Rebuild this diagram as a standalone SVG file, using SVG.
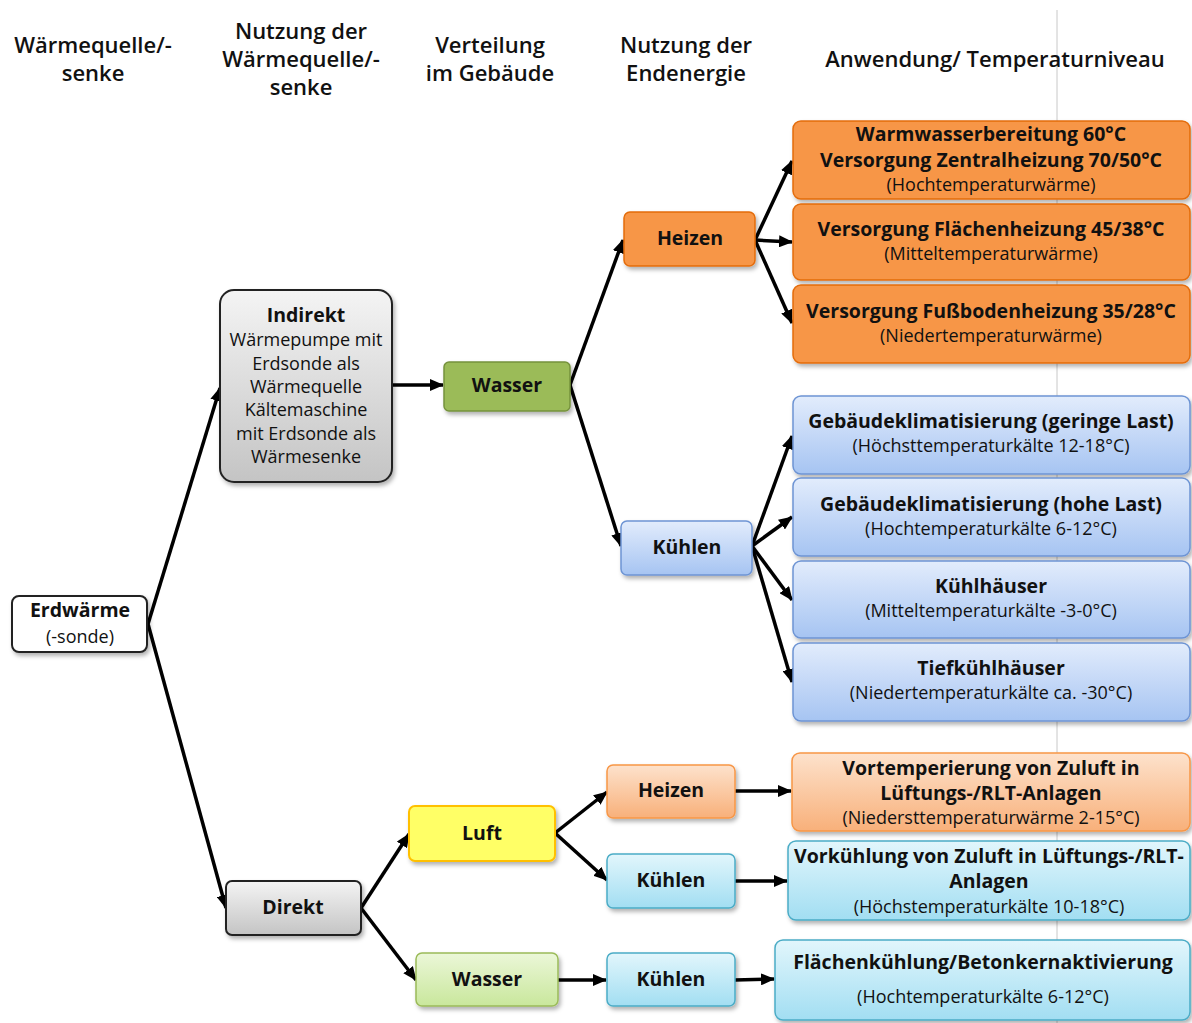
<svg xmlns="http://www.w3.org/2000/svg" width="1192" height="1023" viewBox="0 0 1192 1023">
<defs>
<style>
text{font-family:"Open Sans","Liberation Sans",sans-serif;fill:#111;text-anchor:middle}
.h{font-size:22px;font-weight:600}
.s{font-size:18px}
.n{font-size:19.5px;font-weight:bold}
.c{stroke:#000;stroke-width:3.5;fill:none;marker-end:url(#ah)}
.box{filter:url(#sh)}
</style>
<marker id="ah" markerUnits="userSpaceOnUse" markerWidth="14" markerHeight="12" viewBox="0 0 14 12" refX="13" refY="6" orient="auto"><path d="M0,0 L14,6 L0,12 z" fill="#000"/></marker>
<filter id="sh" x="-10%" y="-10%" width="130%" height="140%"><feDropShadow dx="2" dy="3" stdDeviation="2" flood-color="#000" flood-opacity="0.3"/></filter>
<linearGradient id="gGray" x1="0" y1="0" x2="0" y2="1"><stop offset="0" stop-color="#f4f4f4"/><stop offset="1" stop-color="#c4c4c4"/></linearGradient>
<linearGradient id="gBlue" x1="0" y1="0" x2="0" y2="1"><stop offset="0" stop-color="#e2ecfc"/><stop offset="1" stop-color="#a6c4f2"/></linearGradient>
<linearGradient id="gLO" x1="0" y1="0" x2="0" y2="1"><stop offset="0" stop-color="#fde2cc"/><stop offset="1" stop-color="#f8b07a"/></linearGradient>
<linearGradient id="gCy" x1="0" y1="0" x2="0" y2="1"><stop offset="0" stop-color="#e2f6fc"/><stop offset="1" stop-color="#a2def2"/></linearGradient>
<linearGradient id="gLG" x1="0" y1="0" x2="0" y2="1"><stop offset="0" stop-color="#ebf7d8"/><stop offset="1" stop-color="#c9e79c"/></linearGradient>
</defs>
<rect width="1192" height="1023" fill="#fff"/>
<line x1="1057" y1="10" x2="1057" y2="1023" stroke="#c8c8c8" stroke-width="1"/>

<g id="headers">
<text class="h" x="93" y="53">Wärmequelle/-</text>
<text class="h" x="93" y="81">senke</text>
<text class="h" x="301" y="39">Nutzung der</text>
<text class="h" x="301" y="67">Wärmequelle/-</text>
<text class="h" x="301" y="95">senke</text>
<text class="h" x="490" y="53">Verteilung</text>
<text class="h" x="490" y="81">im Gebäude</text>
<text class="h" x="686" y="53">Nutzung der</text>
<text class="h" x="686" y="81">Endenergie</text>
<text class="h" x="995" y="67">Anwendung/ Temperaturniveau</text>
</g>

<g id="connectors">
<line class="c" x1="148" y1="624" x2="220" y2="388"/>
<line class="c" x1="148" y1="624" x2="226" y2="908"/>
<line class="c" x1="392" y1="385" x2="443" y2="385"/>
<line class="c" x1="570" y1="385" x2="623" y2="240"/>
<line class="c" x1="570" y1="385" x2="621" y2="546"/>
<line class="c" x1="755" y1="240" x2="792" y2="161"/>
<line class="c" x1="755" y1="240" x2="792" y2="242"/>
<line class="c" x1="755" y1="240" x2="792" y2="323"/>
<line class="c" x1="752" y1="546" x2="792" y2="436"/>
<line class="c" x1="752" y1="546" x2="792" y2="517"/>
<line class="c" x1="752" y1="546" x2="792" y2="600"/>
<line class="c" x1="752" y1="546" x2="792" y2="682"/>
<line class="c" x1="361" y1="908" x2="409" y2="834"/>
<line class="c" x1="361" y1="908" x2="416" y2="980"/>
<line class="c" x1="555" y1="833" x2="607" y2="792"/>
<line class="c" x1="555" y1="833" x2="607" y2="880"/>
<line class="c" x1="735" y1="791" x2="791" y2="791"/>
<line class="c" x1="735" y1="881" x2="787" y2="881"/>
<line class="c" x1="558" y1="980" x2="606" y2="980"/>
<line class="c" x1="735" y1="980" x2="774" y2="979"/>
</g>

<g id="erdwaerme"><rect class="box" x="12" y="596" width="135" height="56" rx="7" fill="#fff" stroke="#222" stroke-width="2"/>
<text class="n" x="80" y="617">Erdwärme</text><text class="s" x="80" y="643">(-sonde)</text></g>

<g id="indirekt"><rect class="box" x="220" y="290" width="172" height="192" rx="14" fill="url(#gGray)" stroke="#222" stroke-width="2"/>
<text class="n" x="306" y="322">Indirekt</text>
<text class="s" x="306" y="346">Wärmepumpe mit</text>
<text class="s" x="306" y="370">Erdsonde als</text>
<text class="s" x="306" y="393">Wärmequelle</text>
<text class="s" x="306" y="416">Kältemaschine</text>
<text class="s" x="306" y="440">mit Erdsonde als</text>
<text class="s" x="306" y="463">Wärmesenke</text></g>

<g id="wasser1"><rect class="box" x="444" y="362" width="126" height="49" rx="5" fill="#9bbb59" stroke="#76923c" stroke-width="1.5"/>
<text class="n" x="507" y="392">Wasser</text></g>

<g id="heizen1"><rect class="box" x="624" y="212" width="131" height="54" rx="6" fill="#f79646" stroke="#e46c0a" stroke-width="1.5"/>
<text class="n" x="690" y="245">Heizen</text></g>

<g id="kuehlen1"><rect class="box" x="621" y="521" width="131" height="54" rx="6" fill="url(#gBlue)" stroke="#6d94d4" stroke-width="1.5"/>
<text class="n" x="687" y="554">Kühlen</text></g>

<g id="warmwasser"><rect class="box" x="793" y="121" width="397" height="78" rx="8" fill="#f79646" stroke="#e46c0a" stroke-width="1.5"/>
<text class="n" x="991" y="141">Warmwasserbereitung 60°C</text>
<text class="n" x="991" y="167">Versorgung Zentralheizung 70/50°C</text>
<text class="s" x="991" y="191">(Hochtemperaturwärme)</text></g>

<g id="flaechenheizung"><rect class="box" x="793" y="204" width="397" height="76" rx="8" fill="#f79646" stroke="#e46c0a" stroke-width="1.5"/>
<text class="n" x="991" y="236">Versorgung Flächenheizung 45/38°C</text>
<text class="s" x="991" y="260">(Mitteltemperaturwärme)</text></g>

<g id="fussbodenheizung"><rect class="box" x="793" y="285" width="397" height="78" rx="8" fill="#f79646" stroke="#e46c0a" stroke-width="1.5"/>
<text class="n" x="991" y="318">Versorgung Fußbodenheizung 35/28°C</text>
<text class="s" x="991" y="342">(Niedertemperaturwärme)</text></g>

<g id="klima-gering"><rect class="box" x="793" y="396" width="397" height="78" rx="8" fill="url(#gBlue)" stroke="#6d94d4" stroke-width="1.5"/>
<text class="n" x="991" y="428">Gebäudeklimatisierung (geringe Last)</text>
<text class="s" x="991" y="452">(Höchsttemperaturkälte 12-18°C)</text></g>

<g id="klima-hoch"><rect class="box" x="793" y="478" width="397" height="78" rx="8" fill="url(#gBlue)" stroke="#6d94d4" stroke-width="1.5"/>
<text class="n" x="991" y="511">Gebäudeklimatisierung (hohe Last)</text>
<text class="s" x="991" y="535">(Hochtemperaturkälte 6-12°C)</text></g>

<g id="kuehlhaeuser"><rect class="box" x="793" y="561" width="397" height="77" rx="8" fill="url(#gBlue)" stroke="#6d94d4" stroke-width="1.5"/>
<text class="n" x="991" y="593">Kühlhäuser</text>
<text class="s" x="991" y="617">(Mitteltemperaturkälte -3-0°C)</text></g>

<g id="tiefkuehlhaeuser"><rect class="box" x="793" y="643" width="397" height="78" rx="8" fill="url(#gBlue)" stroke="#6d94d4" stroke-width="1.5"/>
<text class="n" x="991" y="675">Tiefkühlhäuser</text>
<text class="s" x="991" y="699">(Niedertemperaturkälte ca. -30°C)</text></g>

<g id="direkt"><rect class="box" x="226" y="881" width="135" height="54" rx="6" fill="url(#gGray)" stroke="#222" stroke-width="2"/>
<text class="n" x="293" y="914">Direkt</text></g>

<g id="luft"><rect class="box" x="409" y="806" width="146" height="55" rx="6" fill="#ffff66" stroke="#ffc000" stroke-width="2"/>
<text class="n" x="482" y="840">Luft</text></g>

<g id="heizen2"><rect class="box" x="607" y="765" width="128" height="53" rx="6" fill="url(#gLO)" stroke="#f79646" stroke-width="1.5"/>
<text class="n" x="671" y="797">Heizen</text></g>

<g id="kuehlen2"><rect class="box" x="607" y="854" width="128" height="54" rx="6" fill="url(#gCy)" stroke="#4bacc6" stroke-width="1.5"/>
<text class="n" x="671" y="887">Kühlen</text></g>

<g id="wasser2"><rect class="box" x="416" y="953" width="142" height="53" rx="6" fill="url(#gLG)" stroke="#9bbb59" stroke-width="1.5"/>
<text class="n" x="487" y="986">Wasser</text></g>

<g id="kuehlen3"><rect class="box" x="607" y="953" width="128" height="53" rx="6" fill="url(#gCy)" stroke="#4bacc6" stroke-width="1.5"/>
<text class="n" x="671" y="986">Kühlen</text></g>

<g id="vortemperierung"><rect class="box" x="792" y="753" width="398" height="78" rx="8" fill="url(#gLO)" stroke="#f79646" stroke-width="1.5"/>
<text class="n" x="991" y="775">Vortemperierung von Zuluft in</text>
<text class="n" x="991" y="800">Lüftungs-/RLT-Anlagen</text>
<text class="s" x="991" y="824">(Niedersttemperaturwärme 2-15°C)</text></g>

<g id="vorkuehlung"><rect class="box" x="788" y="841" width="402" height="79" rx="8" fill="url(#gCy)" stroke="#4bacc6" stroke-width="1.5"/>
<text class="n" x="989" y="863">Vorkühlung von Zuluft in Lüftungs-/RLT-</text>
<text class="n" x="989" y="888">Anlagen</text>
<text class="s" x="989" y="913">(Höchstemperaturkälte 10-18°C)</text></g>

<g id="flaechenkuehlung"><rect class="box" x="775" y="940" width="415" height="80" rx="8" fill="url(#gCy)" stroke="#4bacc6" stroke-width="1.5"/>
<text class="n" x="983" y="969">Flächenkühlung/Betonkernaktivierung</text>
<text class="s" x="983" y="1003">(Hochtemperaturkälte 6-12°C)</text></g>
</svg>
